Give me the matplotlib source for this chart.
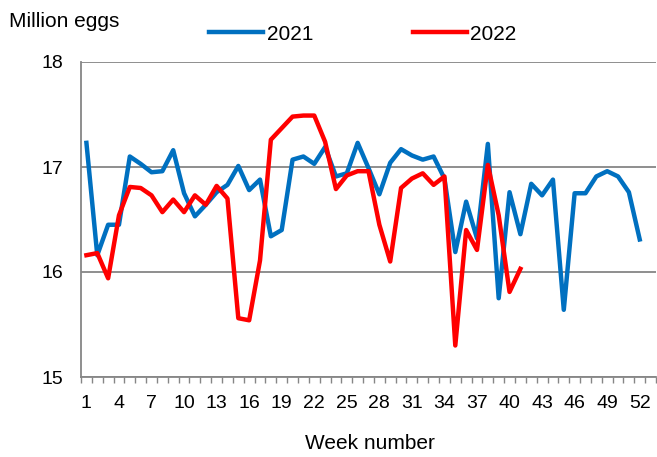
import matplotlib
matplotlib.use("Agg")
import matplotlib.pyplot as plt
import numpy as np

plt.rcParams['font.family'] = ['Liberation Sans', 'DejaVu Sans']

weeks_2021 = list(range(1, 53))
eggs_2021 = [17.23, 16.16, 16.45, 16.45, 17.10, 17.03, 16.95, 16.96, 17.16, 16.75,
             16.53, 16.64, 16.76, 16.83, 17.01, 16.78, 16.88, 16.34, 16.40, 17.07,
             17.10, 17.03, 17.19, 16.91, 16.94, 17.23, 16.99, 16.74, 17.04, 17.17,
             17.11, 17.07, 17.10, 16.89, 16.19, 16.67, 16.32, 17.22, 15.75, 16.76,
             16.36, 16.84, 16.73, 16.88, 15.64, 16.75, 16.75, 16.91, 16.96, 16.91,
             16.76, 16.31]
weeks_2022 = list(range(1, 42))
eggs_2022 = [16.16, 16.18, 15.94, 16.54, 16.81, 16.80, 16.73, 16.57, 16.69, 16.57,
             16.73, 16.64, 16.82, 16.70, 15.56, 15.54, 16.11, 17.26, 17.37, 17.48,
             17.49, 17.49, 17.24, 16.79, 16.92, 16.96, 16.96, 16.45, 16.10, 16.80,
             16.89, 16.94, 16.83, 16.91, 15.30, 16.40, 16.21, 17.02, 16.54, 15.81,
             16.03]
xtick_weeks = list(range(1, 53, 3))
yticks = [15, 16, 17, 18]

W, H = 657, 457
fig = plt.figure(figsize=(W / 100, H / 100), dpi=100)
ax = fig.add_axes([81 / W, 1 - 377 / H, (656 - 81) / W, (377 - 62) / H])

blue = '#0070C0'
red = '#FF0000'
ax.plot(weeks_2021, eggs_2021, color=blue, lw=3.2, label='2021')
ax.plot(weeks_2022, eggs_2022, color=red, lw=3.2, label='2022')

ax.set_xlim(0.5, 53.5)
ax.set_ylim(15, 18)
ax.set_yticks(yticks)
ax.set_yticklabels([str(v) for v in yticks])
ax.set_xticks(xtick_weeks)
ax.set_xticklabels([str(v) for v in xtick_weeks])
ax.set_xticks(np.arange(0.5, 54.0, 1.0), minor=True)

grid_c = '#868686'
ax.grid(axis='y', color=grid_c, lw=1.3)
ax.set_axisbelow(True)
for s in ['top', 'right']:
    ax.spines[s].set_visible(False)
for s in ['left', 'bottom']:
    ax.spines[s].set_color(grid_c)
    ax.spines[s].set_linewidth(1.3)

ax.tick_params(axis='x', which='major', length=0, pad=13, labelsize=14)
ax.tick_params(axis='x', which='minor', length=4, width=1, color=grid_c)
ax.tick_params(axis='y', which='major', length=0, pad=13, labelsize=14)

fig.text(9 / W, 1 - 27 / H, 'Million eggs', fontsize=15, ha='left', va='baseline')
fig.text(370 / W, 1 - 449 / H, 'Week number', fontsize=15, ha='center', va='baseline')

leg = fig.legend(loc='center', bbox_to_anchor=(363 / W, 1 - 34 / H), ncol=2,
                 frameon=False, fontsize=15, handlelength=2.6, handletextpad=0.18,
                 columnspacing=4.75, borderpad=0, borderaxespad=0)

fig.savefig('out.png', dpi=100)
